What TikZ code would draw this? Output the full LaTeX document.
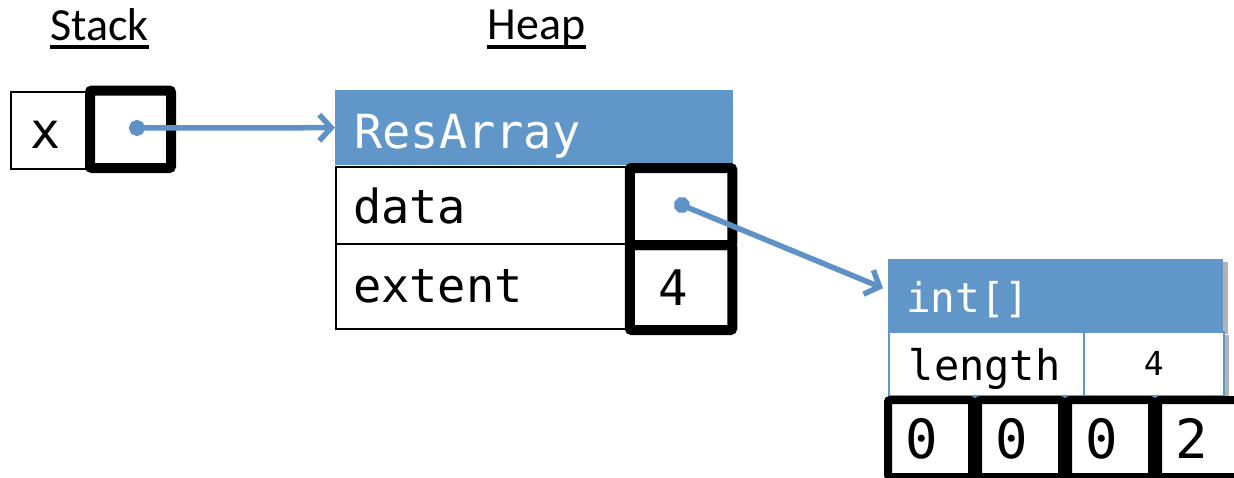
\documentclass[tikz,border=0pt]{standalone}
\usepackage{fontspec}
\usetikzlibrary{arrows.meta,shadows}
\newfontfamily\monofont{DejaVu Sans Mono}
\newfontfamily\labelfont{Carlito}
\definecolor{HeadBlue}{HTML}{6096C8}
\definecolor{PtrBlue}{HTML}{5E92C6}

\begin{document}
\begin{tikzpicture}[x=1pt,y=-1pt,
  mono/.style={font=\monofont\fontsize{#1}{#1}\selectfont},
  title/.style={font=\labelfont\fontsize{46}{46}\selectfont,inner sep=0pt,anchor=base},
  hdr/.style={fill=HeadBlue,text=white,anchor=north west,align=left,inner ysep=0pt},
  slot/.style={draw=black,line width=2pt,anchor=north west,align=left,inner ysep=0pt},
  intslot/.style={draw=HeadBlue,line width=1.5pt,fill=white,anchor=north west,inner ysep=0pt},
  refbox/.style={draw=black,line width=#1,rounded corners=2pt,inner sep=0pt},
  basefix/.style={text height=#1,text depth=0pt},
  boxshadow/.style={drop shadow={shadow xshift=5pt,shadow yshift=-3pt,opacity=0.3,fill=black}},
  ptr/.style={PtrBlue,line width=5.5pt,{Circle[length=16pt]}-{Straight Barb[length=12pt,width=26pt]}}]
\useasboundingbox (0,0) rectangle (1234,477);
\node[title] (stacklbl) at (99.5,40) {Stack};
\draw[line width=3.5pt] ([yshift=-7pt]stacklbl.base west) -- ([yshift=-7pt]stacklbl.base east);
\node[title] (heaplbl) at (536.5,39) {Heap};
\draw[line width=3.5pt] ([yshift=-8pt]heaplbl.base west) -- ([yshift=-8pt]heaplbl.base east);
\node[slot,mono=50,basefix=37pt,text width=42pt,inner xsep=19pt,minimum height=77pt] (xname) at (10,90.5) {x};
\node[refbox=10pt,minimum width=81pt,minimum height=77.5pt] (xref) at (130.5,129.25) {};
\node[hdr,mono=47,basefix=41pt,text width=360pt,inner xsep=19pt,minimum height=75pt] (rahead) at (335,90) {ResArray};
\node[slot,mono=47,text width=260.5pt,inner xsep=17pt,minimum height=77pt] (rdata) at (335,166) {data};
\node[slot,mono=47,text width=260.5pt,inner xsep=17pt,minimum height=85pt] (rextent) at (335,243) {extent};
\node[refbox=10pt,minimum width=102.5pt,minimum height=77pt] (dataval) at (681,206.5) {};
\node[refbox=10pt,mono=49,text width=46pt,inner xsep=28.25pt,align=left,minimum height=85pt] (extentval) at (681,287.5) {4};
\node[hdr,boxshadow,mono=41,basefix=34pt,text width=299pt,inner xsep=18pt,minimum height=72pt] (inthead) at (888,259) {int[]};
\node[intslot,boxshadow,mono=42,basefix=34pt,text width=155pt,inner xsep=20pt,align=left,minimum height=64pt] (intlen) at (888,331) {length};
\node[intslot,boxshadow,mono=33,minimum width=140pt,minimum height=64pt] (intlenval) at (1083,331) {4};
\foreach \i/\v in {0/0,1/0,2/0,3/2} {\node[refbox=8pt,mono=54,text width=50pt,inner xsep=17pt,align=left,minimum height=77pt] (cell\i) at (930+90*\i,438.5) {\v};}
\coordinate (xptr) at (129,128);
\draw[ptr] (xptr) -- (rahead.west);
\coordinate (dataptr) at (674.5,202);
\draw[ptr] (dataptr) -- ([xshift=-5pt,yshift=7pt]inthead.west);
\end{tikzpicture}
\end{document}
